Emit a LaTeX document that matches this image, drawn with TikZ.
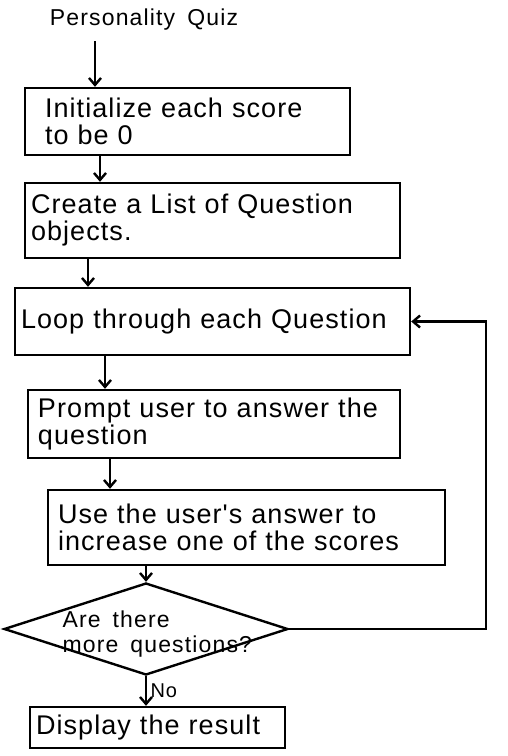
\documentclass[tikz,border=0pt]{standalone}
\usepackage{fontspec}
\usepackage{tikz}
\usetikzlibrary{shapes,shapes.geometric,arrows.meta,calc}
\newfontfamily\handfont[LetterSpace=4,WordSpace=2.6]{Liberation Sans}
\newfontfamily\notefont[LetterSpace=5,WordSpace=1.6]{Liberation Sans}

\begin{document}
\begin{tikzpicture}[
    % Define node styles
    x = 1pt, y = -1pt,
    line width = 2.4pt,
    stepbox/.style={rectangle, draw, align=left, inner xsep=6pt, font=\handfont\fontsize{27}{27}\selectfont},
    decide/.style={diamond, draw, inner sep=0pt},
    qtext/.style={align=left, font=\notefont\fontsize{23}{25}\selectfont},
    flow/.style={-{Straight Barb[length=7pt,width=12pt]}},
]
\useasboundingbox (0,0) rectangle (507,756);

% Main nodes
\node[qtext] (title) at (144,20) {Personality Quiz};

\node[stepbox, minimum width=325pt, minimum height=67pt, text width=313pt] (init) at (187.5,121.5) {\hspace{14pt}Initialize each score\\\hspace{14pt}to be 0};
\node[stepbox, minimum width=375pt, minimum height=75pt, text width=363pt] (create) at (212.5,220.5) {Create a List of Question\\objects.};
\node[stepbox, minimum width=395pt, minimum height=67pt, text width=383pt] (loop) at (212.5,321.5) {Loop through each Question};
\node[stepbox, minimum width=372pt, minimum height=68pt, text width=360pt] (prompt) at (214,424) {\hspace{4pt}Prompt user to answer the\\\hspace{4pt}question};
\node[stepbox, minimum width=397pt, minimum height=75pt, text width=385pt] (use) at (246.5,527.5) {\hspace{4pt}Use the user's answer to\\\hspace{4pt}increase one of the scores};
\node[decide, minimum width=284pt, minimum height=92pt] (dia) at (146,629) {};
\node[qtext, anchor=west] (diatext) at (58,634) {Are there\\more questions?};
\node[stepbox, minimum width=255pt, minimum height=41pt, text width=243pt] (result) at (157.5,727.5) {Display the result};

% Arrow columns
\coordinate (c1) at (95,0);
\coordinate (c2) at (100,0);
\coordinate (c3) at (88,0);
\coordinate (c4) at (105,0);
\coordinate (c5) at (110,0);
\coordinate (back) at (486,0);

% Arrows for main flow
\draw[flow, shorten <=6pt] (title.south -| c1) -- (init.north -| c1);
\draw[flow] (init.south -| c2) -- (create.north -| c2);
\draw[flow] (create.south -| c3) -- (loop.north -| c3);
\draw[flow] (loop.south -| c4) -- (prompt.north -| c4);
\draw[flow] (prompt.south -| c5) -- (use.north -| c5);
\draw[flow] (use.south -| dia.north) -- (dia.north);
\draw[flow] (dia.south) -- (dia.south |- result.north) node[midway, right, font=\handfont\fontsize{20}{20}\selectfont] {No};

% Loop back
\draw[flow] (dia.east) -| (back |- loop.east) -- (loop.east);

\end{tikzpicture}
\end{document}
